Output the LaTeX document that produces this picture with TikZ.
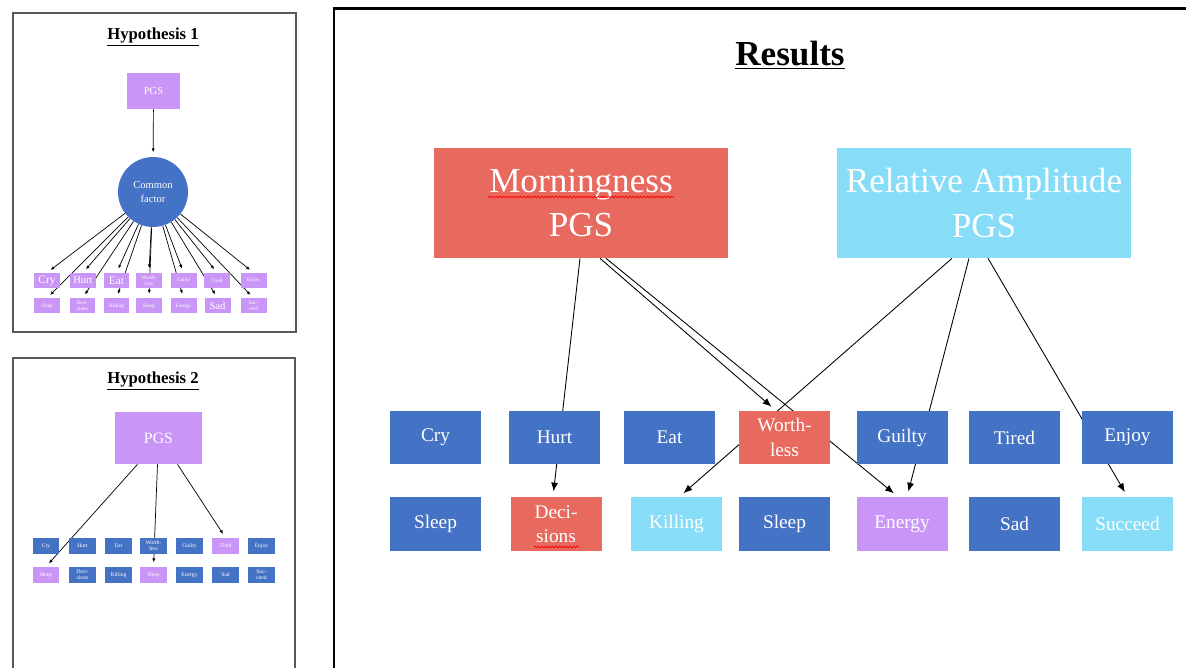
\documentclass[tikz,border=0pt]{standalone}
\usepackage{fontspec}
\setmainfont{Liberation Serif}
\usetikzlibrary{arrows.meta,calc,decorations.pathmorphing}
\pgfdeclarelayer{bg}
\pgfsetlayers{bg,main}
\definecolor{boxblue}{HTML}{4472C4}
\definecolor{boxred}{HTML}{E8695E}
\definecolor{boxcyan}{HTML}{87DDF8}
\definecolor{boxlilac}{HTML}{C995F6}
\tikzset{panel/.style={draw=black!65, line width=1.2pt},
title/.style={font=\fontsize{9.5}{11}\selectfont\bfseries},
bigbox/.style={fill=boxred, text=white, inner sep=0pt, minimum width=5.88cm,
  minimum height=2.2cm, align=center, font=\fontsize{20}{25.5}\selectfont},
tbox/.style={fill=boxblue, text=white, inner sep=0pt, minimum width=1.82cm,
  minimum height=1.08cm, align=center, font=\fontsize{11}{14}\selectfont},
sbox/.style={fill=boxlilac, text=white, inner sep=0pt, minimum width=0.52cm,
  minimum height=0.3cm, align=center, font=\fontsize{3}{3.3}\selectfont},
hbox/.style={fill=boxblue, text=white, inner sep=0pt, minimum width=0.54cm,
  minimum height=0.32cm, align=center, font=\fontsize{3.2}{3.5}\selectfont},
arr/.style={-{Latex[length=5pt,width=4pt]}, line width=0.5pt, shorten >=3pt},
sarr/.style={-{Latex[length=2.2pt,width=1.8pt]}, line width=0.4pt, shorten >=2.5pt},
spell/.style={red, line width=0.4pt, decorate,
  decoration={snake, amplitude=0.5pt, segment length=2pt}}}
\begin{document}
\begin{tikzpicture}[x=0.02cm, y=-0.02cm]
\useasboundingbox (0,0) rectangle (1186,668);
\begin{pgfonlayer}{bg}
\fill[white] (0,0) rectangle (1186,668);
\end{pgfonlayer}

% frames
\draw[panel] (13,13) rectangle (296,332);
\draw[panel] (13,358) rectangle (295,700);
\draw[line width=1.7pt] (334,9) rectangle (1200,700);

% hypothesis 1
\node[title] (t1) at (153,37) {\underline{Hypothesis 1}};
\node[sbox, minimum width=1.06cm, minimum height=0.72cm, font=\fontsize{6}{7}\selectfont] (h1pgs) at (153.5,91) {PGS};
\node[circle, fill=boxblue, text=white, minimum size=1.4cm, inner sep=0pt, align=center,
  font=\fontsize{6}{8}\selectfont] (cf) at (153,192) {Common\\factor};
\node[sbox, font=\fontsize{6.5}{7}\selectfont] (h1cry) at (47,280.5) {Cry};
\node[sbox, font=\fontsize{6}{7}\selectfont] (h1hurt) at (83,280.5) {Hurt};
\node[sbox, font=\fontsize{6.5}{7}\selectfont] (h1eat) at (116.5,280.5) {Eat};
\node[sbox] (h1worth) at (149,280.5) {Worth-\\less};
\node[sbox] (h1guilty) at (183.5,280.5) {Guilty};
\node[sbox] (h1tired) at (217,280.5) {Tired};
\node[sbox] (h1enjoy) at (253.5,280.5) {Enjoy};
\node[sbox] (h1sleepa) at (47,306) {Sleep};
\node[sbox] (h1dec) at (82.5,306) {Deci-\\sions};
\node[sbox] (h1kill) at (116.5,306) {Killing};
\node[sbox] (h1sleepb) at (149,306) {Sleep};
\node[sbox] (h1energy) at (183.5,306) {Energy};
\node[sbox, font=\fontsize{6}{7}\selectfont] (h1sad) at (217.5,306) {Sad};
\node[sbox] (h1succ) at (253.5,306) {Suc-\\ceed};

% hypothesis 2
\node[title] (t2) at (153,381) {\underline{Hypothesis 2}};
\node[sbox, minimum width=1.74cm, minimum height=1.04cm, font=\fontsize{9}{10}\selectfont] (h2pgs) at (158.5,438) {PGS};
\node[hbox] (h2cry) at (46,546) {Cry};
\node[hbox] (h2hurt) at (82.5,546) {Hurt};
\node[hbox] (h2eat) at (118.5,546) {Eat};
\node[hbox] (h2worth) at (153.5,546) {Worth-\\less};
\node[hbox] (h2guilty) at (189.5,546) {Guilty};
\node[hbox, fill=boxlilac] (h2tired) at (225.5,546) {Tired};
\node[hbox] (h2enjoy) at (261.5,546) {Enjoy};
\node[hbox, fill=boxlilac] (h2sleepa) at (46,575) {Sleep};
\node[hbox] (h2dec) at (82.5,575) {Deci-\\sions};
\node[hbox] (h2kill) at (118.5,575) {Killing};
\node[hbox, fill=boxlilac] (h2sleepb) at (153.5,575) {Sleep};
\node[hbox] (h2energy) at (189.5,575) {Energy};
\node[hbox] (h2sad) at (225.5,575) {Sad};
\node[hbox] (h2succ) at (261.5,575) {Suc-\\ceed};

% results
\node[font=\fontsize{20}{24}\selectfont\bfseries] (t3) at (790,55) {\underline{Results}};
\node[bigbox] (morn) at (581,203) {Morningness\\PGS};
\node[bigbox, fill=boxcyan] (ra) at (984,203) {Relative Amplitude\\PGS};
\draw[spell] ($(morn.center)+(-93,-6)$) -- ($(morn.center)+(93,-6)$);

\node[tbox] (cry) at (435.5,437.5) {Cry};
\node[tbox] (hurt) at (554.5,437.5) {Hurt};
\node[tbox] (eat) at (669.5,437.5) {Eat};
\node[tbox, fill=boxred] (worth) at (784.5,437.5) {Worth-\\less};
\node[tbox] (guilty) at (902,437.5) {Guilty};
\node[tbox] (tired) at (1014.5,437.5) {Tired};
\node[tbox] (enjoy) at (1127.5,437.5) {Enjoy};
\node[tbox] (sleepa) at (435.5,524) {Sleep};
\node[tbox, fill=boxred] (dec) at (556,524) {Deci-\\sions};
\node[tbox, fill=boxcyan] (kill) at (676.5,524) {Killing};
\node[tbox] (sleepb) at (784.5,524) {Sleep};
\node[tbox, fill=boxlilac] (energy) at (902,524) {Energy};
\node[tbox] (sad) at (1014.5,524) {Sad};
\node[tbox, fill=boxcyan] (succ) at (1127.5,524) {Succeed};
\draw[spell] ($(dec.center)+(-22,23)$) -- ($(dec.center)+(23,23)$);

\begin{pgfonlayer}{bg}
\draw (h1pgs) edge[sarr] (cf)
      (cf) edge[sarr] (h1cry.north)
      (cf) edge[sarr] (h1hurt.north)
      (cf) edge[sarr] (h1eat.north)
      (cf) edge[sarr] (h1worth.north)
      (cf) edge[sarr] (h1guilty.north)
      (cf) edge[sarr] (h1tired.north)
      (cf) edge[sarr] (h1enjoy.north)
      (cf) edge[sarr] (h1sleepa.north)
      (cf) edge[sarr] (h1dec.north)
      (cf) edge[sarr] (h1kill.north)
      (cf) edge[sarr] (h1sleepb.north)
      (cf) edge[sarr] (h1energy.north)
      (cf) edge[sarr] (h1sad.north)
      (cf) edge[sarr] (h1succ.north);

\draw ($(h2pgs.south)+(-21,0)$) edge[sarr] (h2sleepa.north)
      ($(h2pgs.south)+(-1,0)$) edge[sarr] (h2sleepb.north)
      ($(h2pgs.south)+(19,0)$) edge[sarr] (h2tired.north);

\draw ($(morn.south)+(-1,0)$) edge[arr] ($(dec.north)+(-3,0)$)
      ($(morn.south)+(19,0)$) edge[arr] ($(worth.north)+(-9,0)$)
      ($(morn.south)+(25,0)$) edge[arr] ($(energy.north)+(-4,0)$)
      ($(ra.south)+(-32,0)$) edge[arr] ($(kill.north)+(3,0)$)
      ($(ra.south)+(-15,0)$) edge[arr] ($(energy.north)+(5,0)$)
      ($(ra.south)+(4,0)$) edge[arr] (succ.north);
\end{pgfonlayer}
\end{tikzpicture}
\end{document}
